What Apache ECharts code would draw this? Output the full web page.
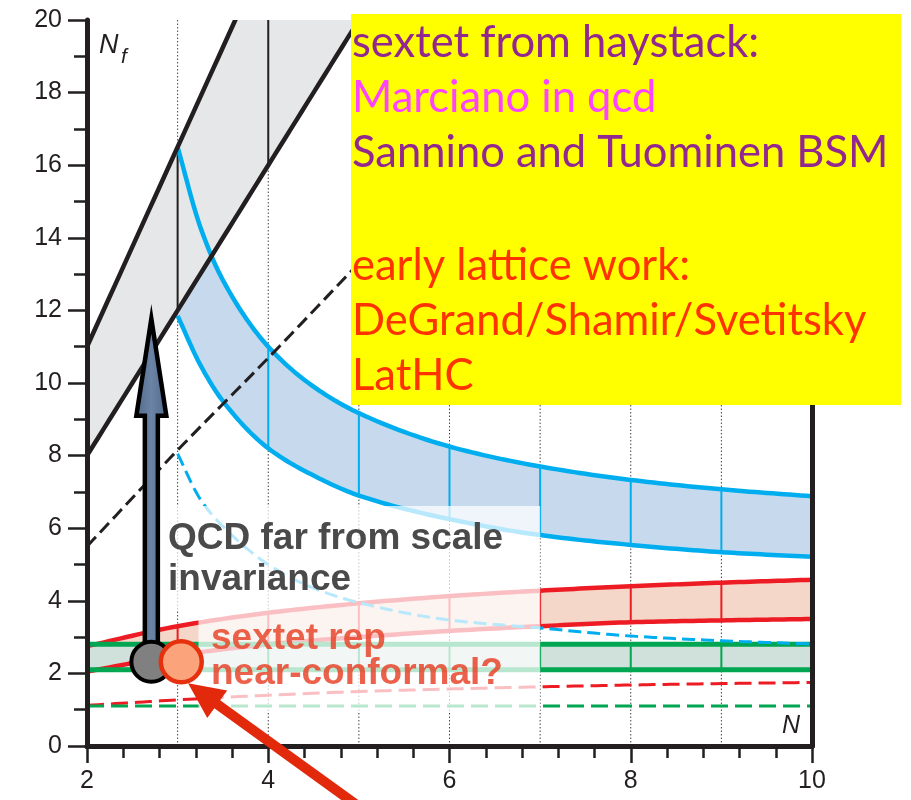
<!DOCTYPE html>
<html><head><meta charset="utf-8">
<script src="https://cdn.jsdelivr.net/npm/echarts@6/dist/echarts.min.js"></script>
<style>html,body{margin:0;padding:0;background:#fff}#c{width:911px;height:800px}</style>
</head><body><div id="c"></div>
<script>
// ---------- data ----------
const xTickLabels = [2, 4, 6, 8, 10];
const yTickLabels = [0, 2, 4, 6, 8, 10, 12, 14, 16, 18, 20];
// fundamental representation (grey band)
const fundN = [2, 3, 4, 5];
const fundLower = [8, 12, 16, 20];
const fundUpperN = [2, 3, 4];
const fundUpper = [11, 16.5, 22];
const fundDashN = [2, 3, 4, 5];
const fundDashed = [5.5, 8.15, 10.69, 13.3];
// two-index antisymmetric (blue band)
const asymN = [3, 3.25, 3.5, 4, 4.5, 5, 6, 7, 8, 9, 10];
const asymUpper = [16.5, 14.3, 12.83, 11.0, 9.9, 9.17, 8.25, 7.7, 7.33, 7.07, 6.88];
const asymLower = [11.85, 10.5, 9.5, 8.2, 7.45, 6.9, 6.25, 5.81, 5.54, 5.34, 5.21];
const asymDashed = [8.05, 6.8, 6.05, 5.0, 4.35, 3.95, 3.47, 3.25, 3.03, 2.9, 2.81];
// two-index symmetric / sextet (red band)
const symN = [2, 3, 4, 5, 6, 7, 8, 9, 10];
const symUpper = [2.75, 3.3, 3.67, 3.93, 4.13, 4.28, 4.4, 4.5, 4.58];
const symLower = [2.05, 2.5, 2.8, 3.0, 3.17, 3.3, 3.41, 3.46, 3.5];
const symDashed = [1.12, 1.27, 1.4, 1.5, 1.57, 1.63, 1.68, 1.72, 1.75];
// adjoint (green band)
const adjN = [2, 10];
const adjUpper = [2.8, 2.8];
const adjLower = [2.1, 2.1];
const adjDashed = [1.1, 1.1];
// integer N grid lines
const gridN = [3, 4, 5, 6, 7, 8, 9];
// annotation anchors (data coords)
const qcdPoint = [2.71, 2.32];
const sextetPoint = [3.04, 2.32];
const qcdArrowTop = 11.85;
const redArrow = [3.115, 1.73, 4.99, -1.65]; // tip x,y  tail x,y
const fadeBoxes = [[2.83, 7.0, 3.75, 6.61], [3.23, 7.0, 0.94, 3.75]];

// ---------- helpers ----------
function smoothPts(p, steps) {
  steps = steps || 16;
  const n = p.length; if (n < 3) return p;
  const h = [], m = [];
  for (let i = 0; i < n - 1; i++) { h[i] = p[i+1][0] - p[i][0]; m[i] = (p[i+1][1] - p[i][1]) / h[i]; }
  const t = new Array(n);
  t[0] = m[0]; t[n-1] = m[n-2];
  for (let i = 1; i < n - 1; i++) {
    if (m[i-1] * m[i] <= 0) t[i] = 0;
    else { const w1 = 2*h[i] + h[i-1], w2 = h[i] + 2*h[i-1]; t[i] = (w1 + w2) / (w1/m[i-1] + w2/m[i]); }
  }
  const out = [];
  for (let i = 0; i < n - 1; i++) {
    for (let s = 0; s < steps; s++) {
      const u = s/steps, u2 = u*u, u3 = u2*u;
      const h00 = 2*u3 - 3*u2 + 1, h10 = u3 - 2*u2 + u, h01 = -2*u3 + 3*u2, h11 = u3 - u2;
      out.push([p[i][0] + u*h[i], h00*p[i][1] + h10*h[i]*t[i] + h01*p[i+1][1] + h11*h[i]*t[i+1]]);
    }
  }
  out.push(p[n-1]);
  return out;
}
function curveSeries(xs, ys, color, width, dash, z) {
  return { type: 'custom', coordinateSystem: 'cartesian2d', z: z, clip: true, silent: true,
    data: [[xs[0], ys[0]]],
    renderItem: function (params, api) {
      const pts = xs.map((x, i) => api.coord([x, ys[i]]));
      return { type: 'polyline', shape: { points: smoothPts(pts) },
        style: { stroke: color, lineWidth: width, lineDash: dash || null, fill: null, lineCap: 'butt' } };
    } };
}
function bandSeries(xsU, up, xsL, lo, fill, z) {
  return { type: 'custom', coordinateSystem: 'cartesian2d', z: z, clip: true, silent: true,
    data: [[xsU[0], up[0]]],
    renderItem: function (params, api) {
      const pu = smoothPts(xsU.map((x, i) => api.coord([x, up[i]])));
      const pl = smoothPts(xsL.map((x, i) => api.coord([x, lo[i]])));
      return { type: 'polygon', shape: { points: pu.concat(pl.reverse()) }, style: { fill: fill, stroke: null } };
    } };
}
function segSeries(segs, color, width, dash, z) {
  return { type: 'custom', coordinateSystem: 'cartesian2d', z: z, clip: true, silent: true,
    data: segs, encode: { x: [0, 2], y: [1, 3] },
    renderItem: function (params, api) {
      const a = api.coord([api.value(0), api.value(1)]), b = api.coord([api.value(2), api.value(3)]);
      return { type: 'line', shape: { x1: a[0], y1: a[1], x2: b[0], y2: b[1] },
        style: { stroke: color, lineWidth: width, lineDash: dash || null } };
    } };
}
function dividers(xs, lo, hi, ns) {
  const out = [];
  ns.forEach(n => { const i = xs.indexOf(n); if (i >= 0) out.push([n, lo[i], n, hi[i]]); });
  return out;
}

const BLACK = '#231f20', BLUE = '#00aeef', RED = '#ed1c24', GREEN = '#00a651';
const LW = 4.5;

const series = [
  segSeries(gridN.map(n => [n, 0, n, 20]), '#444', 1, [1.5, 2], 1),
  bandSeries(asymN, asymUpper, asymN, asymLower, '#c6d9ed', 2),
  bandSeries(fundUpperN, fundUpper, fundN, fundLower, '#e6e7e8', 2),
  bandSeries(symN, symUpper, symN, symLower, '#f4d7c8', 2),
  bandSeries(adjN, adjUpper, adjN, adjLower, '#d0e0da', 2),
  segSeries(dividers(fundN, fundLower, [11, 16.5, 22, 27.5], [3, 4]), BLACK, 2, null, 3),
  segSeries(dividers(asymN, asymLower, asymUpper, [4, 5, 6, 7, 8, 9]), BLUE, 2, null, 3),
  segSeries(dividers(symN, symLower, symUpper, [3, 4, 5, 6, 7, 8, 9]), RED, 2, null, 3),
  segSeries(gridN.map(n => [n, adjLower[0], n, adjUpper[0]]), GREEN, 2, null, 3),
  curveSeries(asymN, asymUpper, BLUE, LW, null, 3),
  curveSeries(asymN, asymLower, BLUE, LW, null, 3),
  curveSeries(fundUpperN, fundUpper, BLACK, LW, null, 3),
  curveSeries(fundN, fundLower, BLACK, LW, null, 3),
  curveSeries(symN, symUpper, RED, LW, null, 3),
  curveSeries(symN, symLower, RED, LW, null, 3),
  curveSeries(adjN, adjUpper, GREEN, 5, null, 3),
  curveSeries(adjN, adjLower, GREEN, 5, null, 3),
  curveSeries(fundDashN, fundDashed, BLACK, 3, [13, 6], 3),
  curveSeries(asymN, asymDashed, BLUE, 3, [13, 6], 3),
  curveSeries(symN, symDashed, RED, 3, [17, 7], 3),
  curveSeries(adjN, adjDashed, GREEN, 3, [17, 7], 3),
  { type: 'custom', coordinateSystem: 'cartesian2d', z: 4, silent: true,
    data: fadeBoxes, encode: { x: [0, 1], y: [2, 3] },
    renderItem: function (params, api) {
      const a = api.coord([api.value(0), api.value(3)]), b = api.coord([api.value(1), api.value(2)]);
      return { type: 'rect', shape: { x: a[0], y: a[1], width: b[0] - a[0], height: b[1] - a[1] },
        style: { fill: 'rgba(255,255,255,0.72)' } };
    } },
  { type: 'custom', coordinateSystem: 'cartesian2d', z: 5, silent: true,
    data: [[qcdPoint[0], qcdPoint[1], qcdArrowTop]], encode: { x: 0, y: [1, 2] },
    renderItem: function (params, api) {
      const b = api.coord([api.value(0), api.value(1)]), t = api.coord([api.value(0), api.value(2)]);
      const x = b[0], hw = 6.5, hh = 15, neck = t[1] + 100;
      return { type: 'polygon', shape: { points: [[x, t[1] + 3], [x + hh, neck], [x + hw, neck], [x + hw, b[1]], [x - hw, b[1]], [x - hw, neck], [x - hh, neck]] },
        style: { fill: new echarts.graphic.LinearGradient(0, 0, 1, 0, [{ offset: 0, color: '#50678a' }, { offset: 0.5, color: '#6b83a4' }, { offset: 1, color: '#50678a' }]),
          stroke: '#000', lineWidth: 4.5, lineJoin: 'miter' } };
    } },
  { type: 'scatter', z: 6, silent: true, data: [qcdPoint], symbolSize: 40,
    itemStyle: { color: '#808080', borderColor: '#000', borderWidth: 4, opacity: 1 } },
  { type: 'scatter', z: 6, silent: true, data: [sextetPoint], symbolSize: 41,
    itemStyle: { color: '#fba47c', borderColor: '#e5310e', borderWidth: 4.5, opacity: 1 } },
  { type: 'custom', coordinateSystem: 'cartesian2d', z: 9, clip: false, silent: true,
    data: [redArrow], encode: { x: [0, 2], y: [1, 3] },
    renderItem: function (params, api) {
      const tip = api.coord([api.value(0), api.value(1)]), tail = api.coord([api.value(2), api.value(3)]);
      let dx = tip[0] - tail[0], dy = tip[1] - tail[1]; const L = Math.hypot(dx, dy); dx /= L; dy /= L;
      const px = -dy, py = dx, sw = 5, hw = 17, hl = 36;
      const nx = tip[0] - dx*hl, ny = tip[1] - dy*hl;
      return { type: 'polygon', shape: { points: [
        [tail[0] + px*sw, tail[1] + py*sw], [nx + px*sw, ny + py*sw], [nx + px*hw, ny + py*hw], tip,
        [nx - px*hw, ny - py*hw], [nx - px*sw, ny - py*sw], [tail[0] - px*sw, tail[1] - py*sw]] },
        style: { fill: '#e2290b' } };
    } }
];

const axisFont = '"Liberation Sans", Arial, sans-serif';
const option = {
  animation: false,
  backgroundColor: '#fff',
  grid: { left: 87, right: 99, top: 20, bottom: 54, show: false },
  xAxis: [
    { type: 'value', min: 2, max: 10, interval: 2, position: 'bottom', z: 8,
      axisLine: { show: true, lineStyle: { color: BLACK, width: 5 } },
      axisTick: { show: true, length: 17, lineStyle: { color: BLACK, width: 2.5 } },
      minorTick: { show: true, splitNumber: 5, length: 12, lineStyle: { color: BLACK, width: 2.5 } },
      axisLabel: { fontSize: 25, color: BLACK, margin: 23, fontFamily: axisFont,
        formatter: v => xTickLabels.indexOf(v) >= 0 ? String(v) : '' },
      splitLine: { show: false } },
    { type: 'value', min: 2, max: 10, position: 'top', z: 8,
      axisLine: { show: true, lineStyle: { color: BLACK, width: 5 } },
      axisTick: { show: false }, axisLabel: { show: false }, splitLine: { show: false } }
  ],
  yAxis: [
    { type: 'value', min: 0, max: 20, interval: 2, position: 'left', z: 8,
      axisLine: { show: true, lineStyle: { color: BLACK, width: 5 } },
      axisTick: { show: true, length: 19, lineStyle: { color: BLACK, width: 2.5 } },
      minorTick: { show: true, splitNumber: 2, length: 13, lineStyle: { color: BLACK, width: 2.5 } },
      axisLabel: { fontSize: 25, color: BLACK, margin: 25, fontFamily: axisFont,
        formatter: v => yTickLabels.indexOf(v) >= 0 ? String(v) : '' },
      splitLine: { show: false } },
    { type: 'value', min: 0, max: 20, position: 'right', z: 8,
      axisLine: { show: true, lineStyle: { color: BLACK, width: 5 } },
      axisTick: { show: false }, axisLabel: { show: false }, splitLine: { show: false } }
  ],
  series: series
};

function mid(base, size, k) { return base - size * k; }
const LAT = 0.39, LIB = 0.35;
const yFont = 'Lato, "Open Sans", sans-serif';
const ySize = 43.5;
const yellowLines = [
  ['sextet from haystack:', '#92278f', 60],
  ['Marciano in qcd', '#ff44ff', 115],
  ['Sannino and Tuominen BSM', '#92278f', 170],
  ['early lattice work:', '#ff3300', 283],
  ['DeGrand/Shamir/Svetitsky', '#ff3300', 338],
  ['LatHC', '#ff3300', 393]
];
const graphics = [
  { type: 'rect', z: 20, shape: { x: 351, y: 14, width: 550, height: 391 }, style: { fill: '#ffff00' } }
].concat(yellowLines.map(l => ({ type: 'text', z: 21, x: 352, y: mid(l[2], ySize, LAT),
  style: { text: l[0], fill: l[1], font: ySize + 'px ' + yFont, textVerticalAlign: 'middle', textAlign: 'left' } })))
.concat([
  { type: 'text', z: 6, x: 168, y: mid(552, 37, LIB), style: { text: 'QCD far from scale', fill: '#4a4a4a', font: 'bold 37px ' + axisFont, textVerticalAlign: 'middle' } },
  { type: 'text', z: 6, x: 168, y: mid(593, 37, LIB), style: { text: 'invariance', fill: '#4a4a4a', font: 'bold 37px ' + axisFont, textVerticalAlign: 'middle' } },
  { type: 'text', z: 6, x: 211, y: mid(652, 37, LIB), style: { text: 'sextet rep', fill: '#e8452b', opacity: 0.85, font: 'bold 37px ' + axisFont, textVerticalAlign: 'middle' } },
  { type: 'text', z: 6, x: 211, y: mid(687, 37, LIB), style: { text: 'near-conformal?', fill: '#e8452b', opacity: 0.85, font: 'bold 37px ' + axisFont, textVerticalAlign: 'middle' } },
  { type: 'text', z: 6, x: 99, y: mid(55, 27, LIB), style: { text: 'N', fill: BLACK, font: 'italic 27px ' + axisFont, textVerticalAlign: 'middle' } },
  { type: 'text', z: 6, x: 121, y: mid(65, 21, LIB), style: { text: 'f', fill: BLACK, font: 'italic 21px ' + axisFont, textVerticalAlign: 'middle' } },
  { type: 'text', z: 6, x: 782, y: mid(735, 25, LIB), style: { text: 'N', fill: BLACK, font: 'italic 25px ' + axisFont, textVerticalAlign: 'middle' } }
]);
option.graphic = { elements: graphics };

const chart = echarts.init(document.getElementById('c'), null, { renderer: 'canvas' });
chart.setOption(option);
</script>
</body></html>
